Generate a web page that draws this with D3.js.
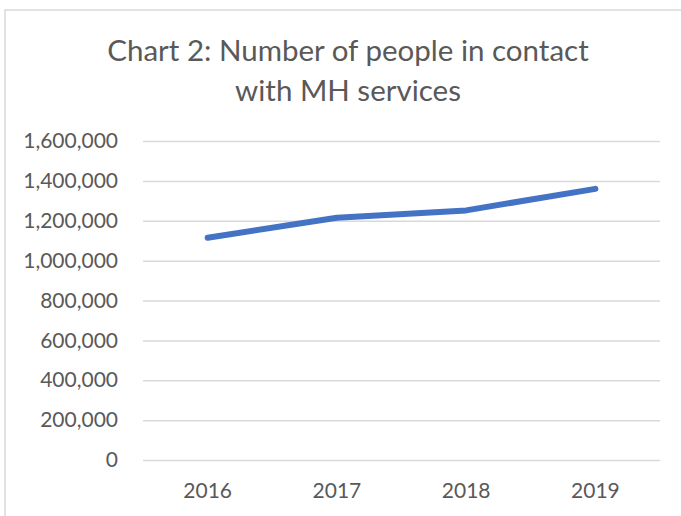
<!DOCTYPE html>
<html>
<head>
<meta charset="utf-8">
<script src="https://cdn.jsdelivr.net/npm/d3@7"></script>
<style>
  body { margin: 0; background: #fff; }
  text { font-family: Lato, "Open Sans", sans-serif; fill: #595959; }
</style>
</head>
<body>
<svg width="681" height="516"></svg>
<script>
// chart values
var years = ["2016", "2017", "2018", "2019"];
var people = [1115000, 1215000, 1252000, 1360000];
var yTicks = [0, 200000, 400000, 600000, 800000, 1000000, 1200000, 1400000, 1600000];
var titleLines = ["Chart 2: Number of people in contact", "with MH services"];

var svg = d3.select("svg"),
    width = +svg.attr("width"),
    height = +svg.attr("height");

// chart area border (right and bottom fall outside the picture)
svg.append("rect")
    .attr("x", 5).attr("y", 10)
    .attr("width", 700).attr("height", 540)
    .attr("fill", "none")
    .attr("stroke", "#d9d9d9")
    .attr("stroke-width", 1.5);

var plotLeft = 143, plotRight = 660, plotTop = 141, plotBottom = 460;

var x = d3.scaleBand().domain(years).range([plotLeft, plotRight]);
var y = d3.scaleLinear().domain([0, 1600000]).range([plotBottom, plotTop]);

// title
svg.append("g").selectAll("text")
    .data(titleLines)
    .enter().append("text")
    .attr("x", 348)
    .attr("y", function(d, i) { return 61 + i * 40; })
    .attr("text-anchor", "middle")
    .style("font-size", "29.5px")
    .text(function(d) { return d; });

// y axis: gridlines + labels
var yAxis = d3.axisLeft(y)
    .tickValues(yTicks)
    .tickSize(-(plotRight - plotLeft))
    .tickPadding(25)
    .tickFormat(d3.format(","));

var gy = svg.append("g")
    .attr("transform", "translate(" + plotLeft + ",0)")
    .call(yAxis);
gy.select(".domain").remove();
gy.selectAll(".tick line").attr("stroke", "#d9d9d9").attr("stroke-width", 1.5);
gy.selectAll(".tick text").style("font-size", "21px").attr("fill", "#595959");

// x axis labels
var xAxis = d3.axisBottom(x).tickSize(0).tickPadding(23);
var gx = svg.append("g")
    .attr("transform", "translate(0," + plotBottom + ")")
    .call(xAxis);
gx.select(".domain").remove();
gx.selectAll(".tick text").style("font-size", "21px").attr("fill", "#595959");

// series line
var line = d3.line()
    .x(function(d, i) { return x(years[i]) + x.bandwidth() / 2; })
    .y(function(d) { return y(d); });

svg.append("path")
    .datum(people)
    .attr("d", line)
    .attr("fill", "none")
    .attr("stroke", "#4472c4")
    .attr("stroke-width", 6)
    .attr("stroke-linecap", "round")
    .attr("stroke-linejoin", "round");
</script>
</body>
</html>
